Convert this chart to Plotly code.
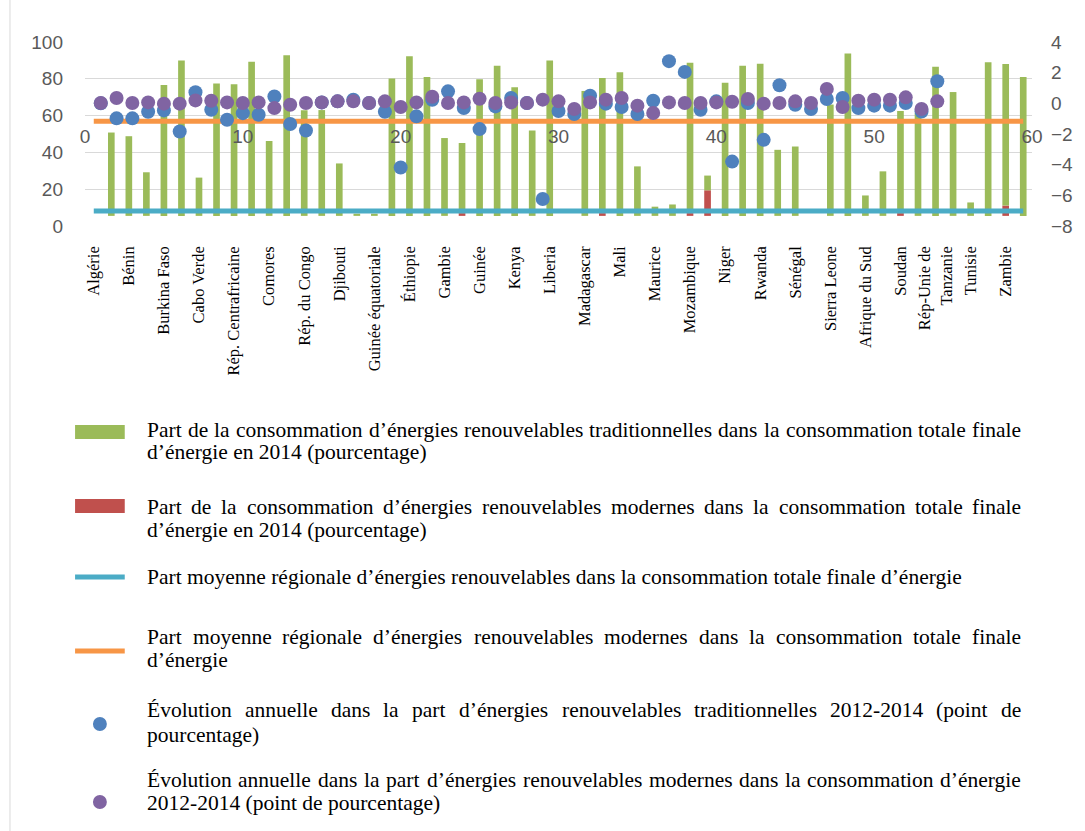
import plotly.graph_objects as go

# ---------------------------------------------------------------- data
countries = [
    "Algérie", "Angola", "Bénin", "Botswana", "Burkina Faso", "Burundi",
    "Cabo Verde", "Cameroun", "Rép. Centrafricaine", "Tchad", "Comores",
    "Congo", "Rép. du Congo", "Côte d’Ivoire", "Djibouti", "Égypte",
    "Guinée équatoriale", "Érythrée", "Éthiopie", "Gabon", "Gambie", "Ghana",
    "Guinée", "Guinée-Bissau", "Kenya", "Lesotho", "Liberia", "Libye",
    "Madagascar", "Malawi", "Mali", "Mauritanie", "Maurice", "Maroc",
    "Mozambique", "Namibie", "Niger", "Nigéria", "Rwanda",
    "Sao Tomé-et-Principe", "Sénégal", "Seychelles", "Sierra Leone",
    "Somalie", "Afrique du Sud", "Soudan du Sud", "Soudan", "Swaziland",
    "Rép-Unie de Tanzanie", "Togo", "Tunisie", "Ouganda", "Zambie",
    "Zimbabwe",
]

# share of modern renewables (red segment, %)
modern = [
    0, 0, 0, 0, 0, 0, 0, 0, 0, 0, 0, 0, 0, 0, 0, 0, 0, 0,
    0, 0, 0, 1.5, 0, 0, 0, 0, 0, 0, 0, 1.5, 0, 0, 0, 0,
    1.5, 13.9, 0, 0, 0, 0, 0, 0, 0, 0, 0, 0, 1.5, 0, 0, 0,
    0, 0, 5.6, 0,
]

# share of traditional renewables (green segment, %)
traditional = [
    0, 45.3, 43.3, 23.7, 71.1, 84.5, 20.8, 71.9, 71.5, 83.7, 40.7, 87.3,
    57.4, 57.5, 28.5, 1.2, 1.2, 74.6, 86.8, 75.5, 42.3, 38.1, 74.2, 81.6,
    69.9, 46.4, 84.4, 0, 67.9, 73.4, 78.0, 26.9, 5.0, 6.2, 81.7, 8.0,
    72.4, 81.6, 82.7, 35.9, 37.7, 0, 60.5, 88.2, 11.1, 24.2, 55.5, 55.8,
    81.1, 67.3, 7.3, 83.5, 76.9, 75.5,
]

# regional averages (%)
avg_renewables = 8.2
avg_modern = 56.9

# annual change 2012-2014, percentage points
change_traditional = [
    0.0, -0.98, -0.98, -0.55, -0.46, -1.84, 0.72, -0.42, -1.07, -0.64,
    -0.74, 0.45, -1.35, -1.77, 0.06, 0.13, 0.23, 0.02, -0.55, -4.18,
    -0.85, 0.23, 0.78, -0.31, -1.68, -0.20, 0.35, 0.02, -6.24, -0.50,
    -0.70, 0.50, -0.02, -0.24, -0.70, 0.17, 2.75, 2.05, -0.42, 0.13,
    -3.80, 0.02, -2.38, 1.18, -0.09, -0.37, 0.28, 0.35, -0.31, -0.15,
    -0.15, 0.02, -0.53, 1.44,
]
change_modern = [
    0.02, 0.35, 0.02, 0.06, -0.02, -0.02, 0.19, 0.17, 0.06, 0.02,
    0.06, -0.31, -0.09, 0.02, 0.06, 0.13, 0.13, 0.02, 0.13, -0.24,
    0.06, 0.43, 0.02, 0.06, 0.30, 0.02, 0.06, 0.02, 0.24, 0.13,
    -0.37, 0.06, 0.24, 0.35, -0.15, -0.63, 0.06, 0.02, 0.02, 0.06,
    0.10, 0.28, -0.02, 0.02, 0.13, 0.02, 0.94, -0.24, 0.17, 0.24,
    0.24, 0.39, -0.37, 0.13,
]
point_index = list(range(1, len(countries) + 1))

left_ticks = [0, 20, 40, 60, 80, 100]
right_ticks = [-8, -6, -4, -2, 0, 2, 4]
top_ticks = [0, 10, 20, 30, 40, 50, 60]

legend_entries = [
    "Part de la consommation d’énergies renouvelables traditionnelles dans la consommation totale finale|d’énergie en 2014 (pourcentage)",
    "Part de la consommation d’énergies renouvelables modernes dans la consommation totale finale|d’énergie en 2014 (pourcentage)",
    "Part moyenne régionale d’énergies renouvelables dans la consommation totale finale d’énergie",
    "Part moyenne régionale d’énergies renouvelables modernes dans la consommation totale finale|d’énergie",
    "Évolution annuelle dans la part d’énergies renouvelables traditionnelles 2012-2014 (point de|pourcentage)",
    "Évolution annuelle dans la part d’énergies renouvelables modernes dans la consommation d’énergie|2012-2014 (point de pourcentage)",
]

# ---------------------------------------------------------------- styling
GREEN, RED = "#9BBB59", "#C0504D"
CYAN, ORANGE = "#4BACC6", "#F79646"
BLUE, PURPLE = "#4F81BD", "#8064A2"
GRID = "#D9D9D9"
AXIS_GREY = "#595959"

W, H = 1085, 831
M_L, M_R, M_T, M_B = 85, 47, 42, 605
PLOT_W = W - M_L - M_R
PLOT_H = H - M_T - M_B
BAR_FLOOR = 5.5          # value at which the category axis crosses

def px_x(px):
    return (px - M_L) / PLOT_W

def px_y(py):
    return (H - M_B - py) / PLOT_H

shown = countries[0::2]
shown_text = [c.replace("Rép-Unie de Tanzanie", "Rép-Unie de<br>Tanzanie") for c in shown]

fig = go.Figure()

fig.add_trace(go.Bar(
    x=countries, y=modern, base=[BAR_FLOOR] * len(countries),
    marker=dict(color=RED, line=dict(width=0)), width=0.38,
    name="modernes", showlegend=False,
))
fig.add_trace(go.Bar(
    x=countries, y=traditional, base=[BAR_FLOOR + m for m in modern],
    marker=dict(color=GREEN, line=dict(width=0)), width=0.38,
    name="traditionnelles", showlegend=False,
))
fig.add_trace(go.Scatter(
    x=countries, y=[avg_renewables] * len(countries), mode="lines",
    line=dict(color=CYAN, width=5), showlegend=False,
))
fig.add_trace(go.Scatter(
    x=countries, y=[avg_modern] * len(countries), mode="lines",
    line=dict(color=ORANGE, width=5), showlegend=False,
))
fig.add_trace(go.Scatter(
    x=point_index, y=change_traditional, xaxis="x2", yaxis="y2",
    mode="markers", marker=dict(color=BLUE, size=14, line=dict(width=0)),
    showlegend=False,
))
fig.add_trace(go.Scatter(
    x=point_index, y=change_modern, xaxis="x2", yaxis="y2",
    mode="markers", marker=dict(color=PURPLE, size=14, line=dict(width=0)),
    showlegend=False,
))

tick_font = dict(family="Liberation Sans, Arial, sans-serif", size=19, color=AXIS_GREY)

fig.update_layout(
    width=W, height=H,
    margin=dict(l=M_L, r=M_R, t=M_T, b=M_B, pad=0),
    paper_bgcolor="white", plot_bgcolor="white",
    barmode="overlay",
    showlegend=False,
    xaxis=dict(
        type="category", tickmode="array", tickvals=shown, ticktext=shown_text,
        tickangle=-90, showgrid=False, zeroline=False, showline=False,
        ticks="", ticklabelstandoff=16,
        tickfont=dict(family="Liberation Serif, Times New Roman, serif", size=16.5, color="black"),
        range=[-0.5, len(countries) - 0.5],
    ),
    yaxis=dict(
        range=[0, 100], tickvals=left_ticks, showgrid=True, gridcolor=GRID,
        gridwidth=1.3, zeroline=True, zerolinecolor="rgba(0,0,0,0)",
        showline=False, ticks="", tickfont=tick_font, ticklabelstandoff=21,
    ),
    xaxis2=dict(
        overlaying="x", anchor="free", position=8 / 12, side="bottom",
        range=[0, 60], tickvals=top_ticks, showgrid=False, zeroline=False,
        showline=False, ticks="", tickfont=tick_font, ticklabelstandoff=20,
    ),
    yaxis2=dict(
        overlaying="y", side="right", range=[-8, 4], tickvals=right_ticks,
        showgrid=False, zeroline=False, showline=False, ticks="",
        tickfont=tick_font, ticklabelstandoff=18,
    ),
)

# ---------------------------------------------------------------- legend
TIMES_W = {
    " ": 250, "(": 333, ")": 333, "-": 333, "’": 333, ",": 250, ".": 250,
    "0": 500, "1": 500, "2": 500, "3": 500, "4": 500, "5": 500, "6": 500,
    "7": 500, "8": 500, "9": 500,
    "A": 722, "E": 611, "É": 611, "M": 889, "P": 556,
    "a": 444, "b": 500, "c": 444, "d": 500, "e": 444, "f": 333, "g": 500,
    "h": 500, "i": 278, "j": 278, "k": 500, "l": 278, "m": 778, "n": 500,
    "o": 500, "p": 500, "q": 500, "r": 333, "s": 389, "t": 278, "u": 500,
    "v": 500, "w": 722, "x": 500, "y": 500, "z": 444, "é": 444, "è": 444,
}
LEG_FONT = 21.5
LEG_FAMILY = "Liberation Serif, Times New Roman, serif"
TEXT_X0, TEXT_X1 = 145, 1025

def width_of(s):
    return sum(TIMES_W.get(c, 500) for c in s) * LEG_FONT / 1000

def add_text_line(line, py, justify):
    words = line.split(" ")
    if not justify or len(words) < 2:
        fig.add_annotation(
            x=px_x(TEXT_X0), y=px_y(py), xref="paper", yref="paper",
            text=line, showarrow=False, xanchor="left", yanchor="middle",
            font=dict(family=LEG_FAMILY, size=LEG_FONT, color="black"),
        )
        return
    widths = [width_of(w) for w in words]
    gap = (TEXT_X1 - TEXT_X0 - sum(widths)) / (len(words) - 1)
    x = TEXT_X0
    for w, wd in zip(words, widths):
        fig.add_annotation(
            x=px_x(x), y=px_y(py), xref="paper", yref="paper",
            text=w, showarrow=False, xanchor="left", yanchor="middle",
            font=dict(family=LEG_FAMILY, size=LEG_FONT, color="black"),
        )
        x += wd + gap

line_rows = [(430, 452), (507, 530), (577,), (637, 660), (710, 735), (780, 803)]
for entry, rows in zip(legend_entries, line_rows):
    parts = entry.split("|")
    for i, (part, py) in enumerate(zip(parts, rows)):
        add_text_line(part, py, justify=(i < len(parts) - 1))

shapes = []
# bar keys
for colour, yc in ((GREEN, 432), (RED, 506)):
    shapes.append(dict(type="rect", xref="paper", yref="paper",
                       x0=px_x(75), x1=px_x(125), y0=px_y(yc - 7), y1=px_y(yc + 7),
                       fillcolor=colour, line=dict(width=0)))
# line keys
for colour, yc in ((CYAN, 577), (ORANGE, 651)):
    shapes.append(dict(type="line", xref="paper", yref="paper",
                       x0=px_x(75), x1=px_x(125), y0=px_y(yc), y1=px_y(yc),
                       line=dict(color=colour, width=5)))
# marker keys
for colour, yc in ((BLUE, 724), (PURPLE, 802)):
    shapes.append(dict(type="circle", xref="paper", yref="paper",
                       x0=px_x(93), x1=px_x(107), y0=px_y(yc + 7), y1=px_y(yc - 7),
                       fillcolor=colour, line=dict(width=0)))
# chart frame
shapes.append(dict(type="line", xref="paper", yref="paper",
                   x0=px_x(9.5), x1=px_x(9.5), y0=px_y(0), y1=px_y(H),
                   line=dict(color="#D9D9D9", width=1)))
fig.update_layout(shapes=shapes)

fig.write_html("out.html")
